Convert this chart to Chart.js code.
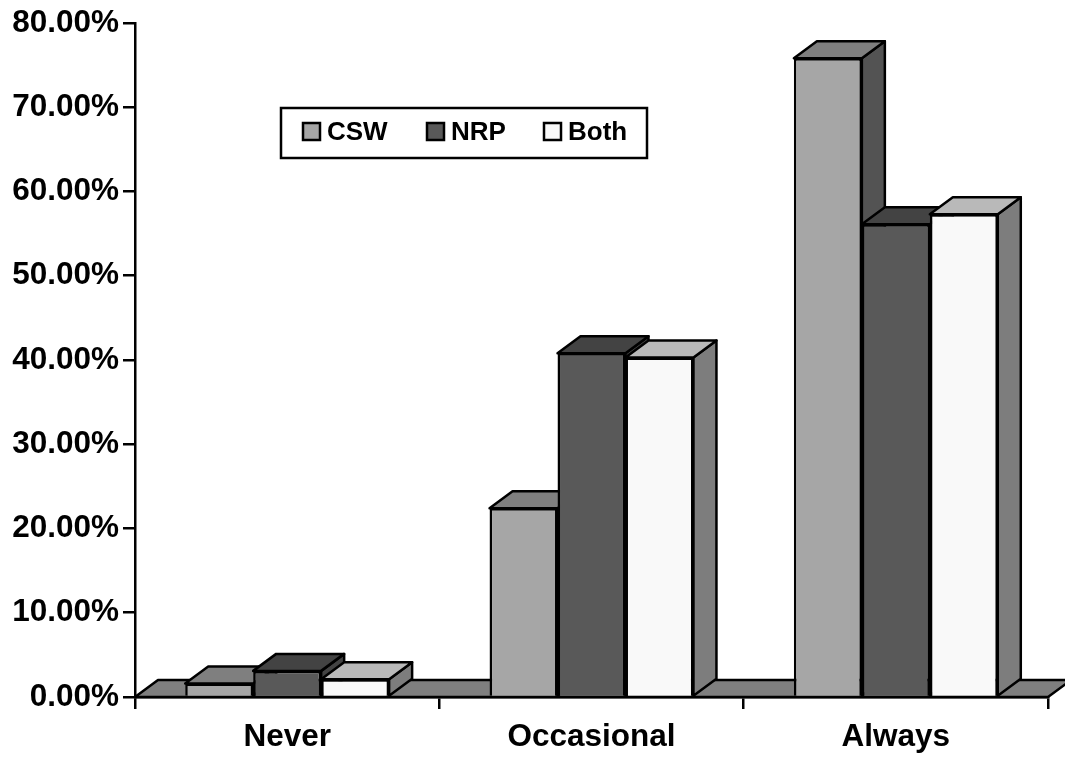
<!DOCTYPE html>
<html>
<head>
<meta charset="utf-8">
<style>
  html, body { margin: 0; padding: 0; background: #fff; }
  canvas { display: block; }
</style>
<script src="https://cdn.jsdelivr.net/npm/chart.js@4/dist/chart.umd.min.js"></script>
</head>
<body>
<canvas id="grafico" width="1065" height="757"></canvas>
<script>
const categories = ["Never", "Occasional", "Always"];
const csw = [1.6, 22.4, 75.8];
const nrp = [3.1, 40.8, 56.1];
const both = [2.1, 40.3, 57.3];
const yTicks = [0, 10, 20, 30, 40, 50, 60, 70, 80];

const FONT = '"Liberation Sans", Arial, sans-serif';
const DX = 23; // profundidade do efeito 3D
const DY = 17;
const LINE = 2.5;

const shades = [
  { front: "#a6a6a6", top: "#7f7f7f", side: "#535353" },
  { front: "#595959", top: "#434343", side: "#434343" },
  { front: "#f9f9f9", top: "#b9b9b9", side: "#7d7d7d" },
];

function poly(ctx, pts, fill) {
  ctx.beginPath();
  pts.forEach((p, i) => (i ? ctx.lineTo(p[0], p[1]) : ctx.moveTo(p[0], p[1])));
  ctx.closePath();
  ctx.fillStyle = fill;
  ctx.fill();
  ctx.lineWidth = LINE;
  ctx.lineJoin = "round";
  ctx.strokeStyle = "#000";
  ctx.stroke();
}

// chão, laterais e topos das barras
const fake3d = {
  id: "fake3d",
  beforeDatasetsDraw(chart) {
    const { ctx, chartArea: a } = chart;
    ctx.save();
    poly(ctx, [[a.left, a.bottom], [a.left + DX, a.bottom - DY], [a.right + DX, a.bottom - DY], [a.right, a.bottom]], "#7f7f7f");
    ctx.restore();
  },
  // o Chart.js desenha da última série para a primeira, aqui precisa ser o contrário
  beforeDatasetDraw() {
    return false;
  },
  afterDatasetsDraw(chart) {
    const { ctx } = chart;
    chart.data.datasets.forEach((ds, i) => {
      const s = shades[i];
      ctx.save();
      chart.getDatasetMeta(i).data.forEach((bar) => {
        const l = bar.x - bar.width / 2;
        const r = bar.x + bar.width / 2;
        poly(ctx, [[r, bar.base], [r + DX, bar.base - DY], [r + DX, bar.y - DY], [r, bar.y]], s.side);
        poly(ctx, [[l, bar.y], [l + DX, bar.y - DY], [r + DX, bar.y - DY], [r, bar.y]], s.top);
        bar.draw(ctx);
      });
      ctx.restore();
    });
  },
};

// legenda em caixa
const legendaBox = {
  id: "legendaBox",
  afterDraw(chart) {
    const { ctx } = chart;
    ctx.save();
    ctx.fillStyle = "#fff";
    ctx.strokeStyle = "#000";
    ctx.lineWidth = LINE;
    ctx.fillRect(281, 108, 366, 50);
    ctx.strokeRect(281, 108, 366, 50);
    const swatchX = [303, 427, 544];
    ctx.font = "bold 26px " + FONT;
    ctx.textBaseline = "middle";
    chart.data.datasets.forEach((ds, i) => {
      ctx.fillStyle = ds.backgroundColor;
      ctx.fillRect(swatchX[i], 123, 17, 17);
      ctx.strokeRect(swatchX[i], 123, 17, 17);
      ctx.fillStyle = "#000";
      ctx.fillText(ds.label, swatchX[i] + 24, 133);
    });
    ctx.restore();
  },
};

new Chart(document.getElementById("grafico"), {
  type: "bar",
  data: {
    labels: categories,
    datasets: [
      { label: "CSW", data: csw, backgroundColor: shades[0].front },
      { label: "NRP", data: nrp, backgroundColor: shades[1].front },
      { label: "Both", data: both, backgroundColor: shades[2].front },
    ].map((d) => ({ ...d, borderColor: "#000", borderWidth: LINE, categoryPercentage: 0.67, barPercentage: 1 })),
  },
  options: {
    responsive: false,
    animation: false,
    layout: { padding: { top: 22, right: 17, bottom: 0, left: 0 } },
    plugins: { legend: { display: false }, tooltip: { enabled: false } },
    scales: {
      x: {
        afterFit: (s) => { s.height = 60; },
        grid: { drawOnChartArea: false, color: "#000", lineWidth: LINE, tickLength: 12 },
        border: { color: "#000", width: LINE },
        ticks: { color: "#000", padding: 9, maxRotation: 0, font: { family: FONT, size: 31.5, weight: "bold" } },
      },
      y: {
        min: 0,
        max: 80,
        afterFit: (s) => { s.width = 135; },
        afterBuildTicks: (s) => { s.ticks = yTicks.map((v) => ({ value: v })); },
        grid: { drawOnChartArea: false, color: "#000", lineWidth: LINE, tickLength: 12 },
        border: { color: "#000", width: LINE },
        ticks: {
          color: "#000",
          padding: 4,
          callback: (v) => v.toFixed(2) + "%",
          font: { family: FONT, size: 31.5, weight: "bold" },
        },
      },
    },
  },
  plugins: [fake3d, legendaBox],
});
</script>
</body>
</html>
